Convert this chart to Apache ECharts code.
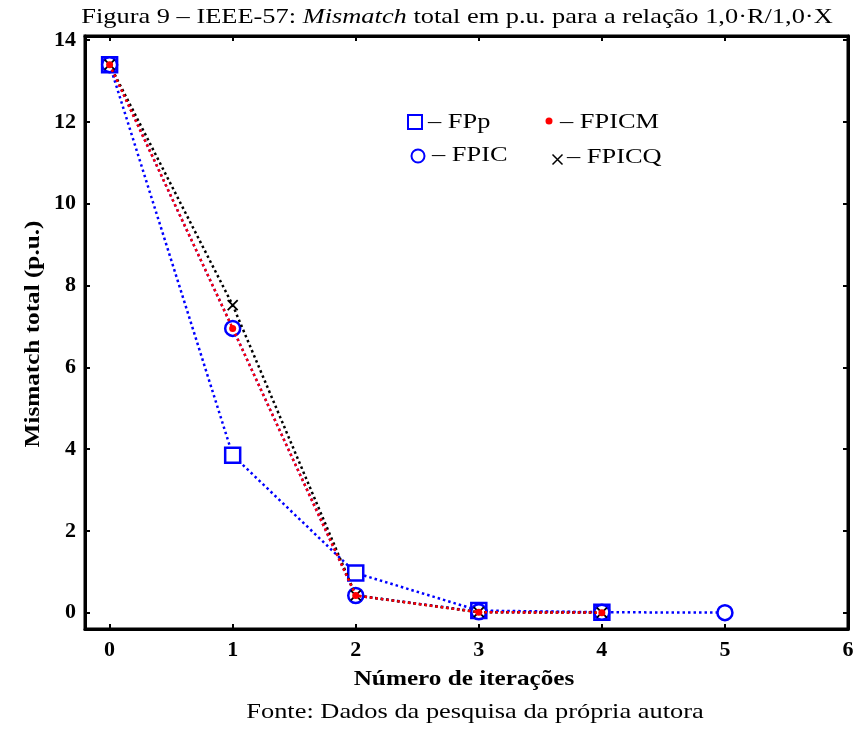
<!DOCTYPE html>
<html>
<head>
<meta charset="utf-8">
<script src="https://cdn.jsdelivr.net/npm/echarts@6/dist/echarts.min.js"></script>
<style>
html,body{margin:0;padding:0;background:#fff;}
#chart{width:858px;height:729px;}
</style>
</head>
<body>
<div id="chart"></div>
<script>
var iterations = [0, 1, 2, 3, 4, 5];
var xTicks = [0, 1, 2, 3, 4, 5, 6];
var yTicks = [0, 2, 4, 6, 8, 10, 12, 14];
var seriesNames = ['FPp', 'FPIC', 'FPICM', 'FPICQ'];
var fpp   = [13.4, 3.85, 0.97, 0.05, 0.01];
var fpic  = [13.4, 6.95, 0.42, 0.02, 0.01, 0.0];
var fpicm = [13.4, 6.95, 0.42, 0.01, 0.0];
var fpicq = [13.4, 7.52, 0.42, 0.01, 0.0];
var titleText = 'Figura 9 – IEEE-57: {i|Mismatch} total em p.u. para a relação 1,0·R/1,0·X';
var sourceText = 'Fonte: Dados da pesquisa da própria autora';
var xName = 'Número de iterações';
var yName = 'Mismatch total (p.u.)';

function pairs(vals){ return vals.map(function(v,i){ return [iterations[i], v]; }); }

var serif = 'Liberation Serif';
var chart = echarts.init(document.getElementById('chart'));
var blue = '#0000ff';
var dot = function(c){ return {color:c, width:2.5, type:[2.5,3]}; };
var xMark = 'path://M0,0L10,10M10,0L0,10';
var SX = 1.2;
var noText = function(){ return ''; };

function txt(text, x, y, size, weight, extra){
  var o = {type:'text', x:x, y:y, scaleX:SX, z:100,
    style:{text:text, font:weight+' '+size+'px "'+serif+'"', fill:'#000', textAlign:'center', textVerticalAlign:'middle'}};
  if (extra) { for (var k in extra) o[k] = extra[k]; }
  return o;
}
function legText(text, x, y){
  return {type:'text', x:x, y:y, scaleX:SX, z:100,
    style:{text:text, font:'normal 22px "'+serif+'"', fill:'#000', textAlign:'left', textVerticalAlign:'middle'}};
}

var titleEl = txt(titleText, 457, 17, 22, 'normal');
titleEl.style.rich = {i:{font:'italic 22px "'+serif+'"', fill:'#000'}};

var option = {
  animation:false,
  backgroundColor:'#fff',
  grid:{left:85, right:10, top:36, bottom:100, show:true, borderColor:'#000', borderWidth:3, backgroundColor:'transparent'},
  legend:[
    {data:[{name:seriesNames[0], icon:'rect', itemStyle:{color:'#fff', borderColor:blue, borderWidth:2}}],
     left:407, top:114, itemWidth:14, itemHeight:14, padding:0, formatter:noText},
    {data:[{name:seriesNames[1], icon:'circle', itemStyle:{color:'#fff', borderColor:blue, borderWidth:2}}],
     left:410.5, top:148.5, itemWidth:13, itemHeight:13, padding:0, formatter:noText},
    {data:[{name:seriesNames[2], icon:'circle', itemStyle:{color:'#ff0000', borderWidth:0}}],
     left:545.5, top:117.5, itemWidth:7, itemHeight:7, padding:0, formatter:noText},
    {data:[{name:seriesNames[3], icon:xMark, itemStyle:{color:'none', borderColor:'#000', borderWidth:1.5}}],
     left:550, top:152, itemWidth:10, itemHeight:10, padding:0, formatter:noText}
  ],
  graphic:[
    titleEl,
    txt(sourceText, 475, 712, 22, 'normal'),
    txt(xName, 464, 680, 21, 'bold'),
    txt(yName, 34, 334, 21, 'bold', {rotation:Math.PI/2}),
    legText('– ' + seriesNames[0], 428, 122),
    legText('– ' + seriesNames[1], 432, 155),
    legText('– ' + seriesNames[2], 560, 122),
    legText('– ' + seriesNames[3], 567, 157)
  ],
  xAxis:[
    {type:'value', min:-0.2, max:6, position:'bottom',
     axisLine:{show:true, onZero:false, lineStyle:{color:'#000', width:3}},
     axisTick:{show:true, inside:true, length:5, lineStyle:{color:'#000', width:2}, customValues:xTicks},
     axisLabel:{show:true, margin:10, fontFamily:serif, fontSize:22, fontWeight:'bold', color:'#000', customValues:xTicks},
     splitLine:{show:false}},
    {type:'value', min:-0.2, max:6, position:'top',
     axisLine:{show:true, onZero:false, lineStyle:{color:'#000', width:3}},
     axisTick:{show:true, inside:true, length:5, lineStyle:{color:'#000', width:2}, customValues:xTicks},
     axisLabel:{show:false}, splitLine:{show:false}}
  ],
  yAxis:[
    {type:'value', min:-0.4, max:14.1, position:'left',
     axisLine:{show:true, onZero:false, lineStyle:{color:'#000', width:3}},
     axisTick:{show:true, inside:true, length:5, lineStyle:{color:'#000', width:2}, customValues:yTicks},
     axisLabel:{show:true, margin:9, fontFamily:serif, fontSize:22, fontWeight:'bold', color:'#000', customValues:yTicks},
     splitLine:{show:false}},
    {type:'value', min:-0.4, max:14.1, position:'right',
     axisLine:{show:true, onZero:false, lineStyle:{color:'#000', width:3}},
     axisTick:{show:true, inside:true, length:5, lineStyle:{color:'#000', width:2}, customValues:yTicks},
     axisLabel:{show:false}, splitLine:{show:false}}
  ],
  series:[
    {name:seriesNames[0], type:'line', data:pairs(fpp), symbol:'rect', symbolSize:15,
     itemStyle:{color:'#fff', borderColor:blue, borderWidth:2.5}, lineStyle:dot(blue), z:2},
    {name:seriesNames[1], type:'line', data:pairs(fpic), symbol:'circle', symbolSize:15,
     itemStyle:{color:'#fff', borderColor:blue, borderWidth:2.5}, lineStyle:dot(blue), z:3},
    {name:seriesNames[2], type:'line', data:pairs(fpicm), symbol:'circle', symbolSize:7,
     itemStyle:{color:'#ff0000', borderWidth:0}, lineStyle:dot('#ff0000'), z:5},
    {name:seriesNames[3], type:'line', data:pairs(fpicq), symbol:xMark, symbolSize:10,
     itemStyle:{color:'none', borderColor:'#000', borderWidth:1.8}, lineStyle:dot('#000'), z:4}
  ]
};
chart.setOption(option);
</script>
</body>
</html>
